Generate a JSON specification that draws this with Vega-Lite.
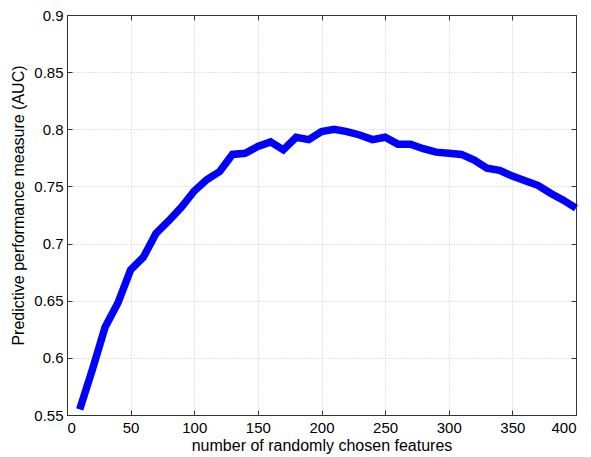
{
  "$schema": "https://vega.github.io/schema/vega-lite/v6.json",
  "width": 509,
  "height": 400,
  "autosize": {"type": "none"},
  "padding": {"left": 67, "top": 15, "right": 15, "bottom": 42},
  "background": "white",
  "config": {
    "view": {"stroke": "#333333", "strokeWidth": 1},
    "font": "Liberation Sans",
    "axis": {
      "labelFont": "Liberation Sans",
      "titleFont": "Liberation Sans",
      "labelFontSize": 15,
      "titleFontSize": 16,
      "titleFontWeight": "normal",
      "labelColor": "#000000",
      "titleColor": "#000000",
      "domainColor": "#333333",
      "tickColor": "#333333",
      "tickSize": -5,
      "gridColor": "#c8c8c8",
      "gridDash": [1, 2],
      "gridWidth": 1
    }
  },
  "data": {
    "values": [
      {"n": 10, "auc": 0.555}, {"n": 20, "auc": 0.59}, {"n": 30, "auc": 0.627}, {"n": 40, "auc": 0.648},
      {"n": 50, "auc": 0.677}, {"n": 60, "auc": 0.688}, {"n": 70, "auc": 0.709}, {"n": 80, "auc": 0.72},
      {"n": 90, "auc": 0.732}, {"n": 100, "auc": 0.746}, {"n": 110, "auc": 0.756}, {"n": 120, "auc": 0.763},
      {"n": 130, "auc": 0.778}, {"n": 140, "auc": 0.779}, {"n": 150, "auc": 0.785}, {"n": 160, "auc": 0.789},
      {"n": 170, "auc": 0.782}, {"n": 180, "auc": 0.793}, {"n": 190, "auc": 0.791}, {"n": 200, "auc": 0.798},
      {"n": 210, "auc": 0.8}, {"n": 220, "auc": 0.798}, {"n": 230, "auc": 0.795}, {"n": 240, "auc": 0.791},
      {"n": 250, "auc": 0.793}, {"n": 260, "auc": 0.787}, {"n": 270, "auc": 0.787}, {"n": 280, "auc": 0.783},
      {"n": 290, "auc": 0.78}, {"n": 300, "auc": 0.779}, {"n": 310, "auc": 0.778}, {"n": 320, "auc": 0.773},
      {"n": 330, "auc": 0.766}, {"n": 340, "auc": 0.764}, {"n": 350, "auc": 0.759}, {"n": 360, "auc": 0.755},
      {"n": 370, "auc": 0.751}, {"n": 380, "auc": 0.744}, {"n": 390, "auc": 0.738}, {"n": 400, "auc": 0.731}
    ]
  },
  "layer": [
    {
      "mark": {"type": "line", "color": "#0000ff", "strokeWidth": 7.5, "strokeCap": "butt", "strokeJoin": "miter"},
      "encoding": {
        "x": {
          "field": "n", "type": "quantitative",
          "scale": {"domain": [0, 400], "nice": false, "zero": false},
          "axis": {
            "orient": "bottom",
            "values": [0, 50, 100, 150, 200, 250, 300, 350, 400],
            "title": "number of randomly chosen features",
            "labelPadding": 10,
            "titlePadding": 2,
            "grid": true
          }
        },
        "y": {
          "field": "auc", "type": "quantitative",
          "scale": {"domain": [0.55, 0.9], "nice": false, "zero": false},
          "axis": {
            "orient": "left",
            "values": [0.55, 0.6, 0.65, 0.7, 0.75, 0.8, 0.85, 0.9],
            "format": ".2~f",
            "title": "Predictive performance measure (AUC)",
            "titleX": -49,
            "titleY": 190,
            "titleBaseline": "middle",
            "titleAlign": "center",
            "labelPadding": 9,
            "grid": true
          }
        }
      }
    },
    {
      "mark": {"type": "line", "strokeOpacity": 0},
      "encoding": {
        "x": {
          "field": "n", "type": "quantitative",
          "scale": {"domain": [0, 400], "nice": false, "zero": false},
          "axis": {"orient": "top", "values": [0, 50, 100, 150, 200, 250, 300, 350, 400], "labels": false, "title": null, "grid": false}
        },
        "y": {
          "field": "auc", "type": "quantitative",
          "scale": {"domain": [0.55, 0.9], "nice": false, "zero": false},
          "axis": {"orient": "right", "values": [0.55, 0.6, 0.65, 0.7, 0.75, 0.8, 0.85, 0.9], "labels": false, "title": null, "grid": false}
        }
      }
    }
  ],
  "resolve": {"axis": {"x": "independent", "y": "independent"}}
}
